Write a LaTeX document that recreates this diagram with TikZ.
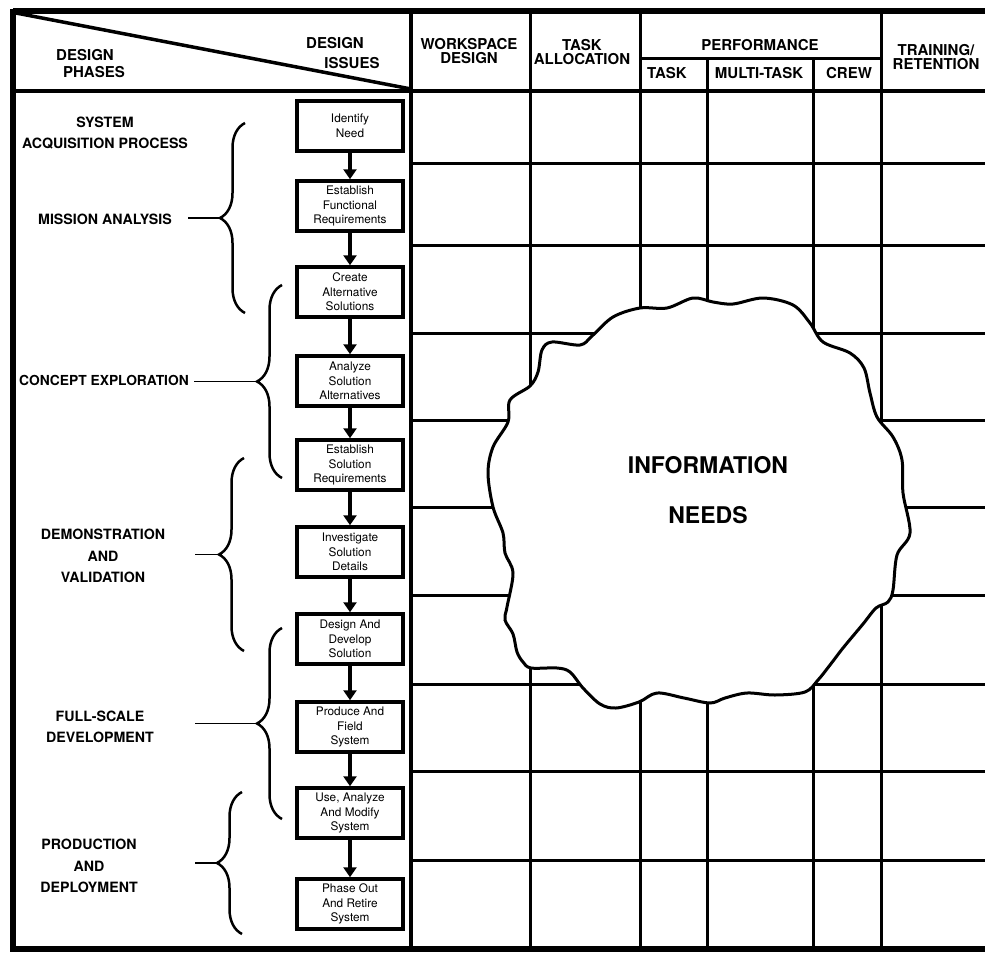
\documentclass[tikz,border=0pt]{standalone}
\usepackage{fontspec}
\setmainfont{TeX Gyre Heros}
\usetikzlibrary{arrows.meta,decorations.pathreplacing}

\begin{document}
\begin{tikzpicture}[x=1pt,y=-1pt,
    hd/.style={font=\fontsize{15}{14}\selectfont\bfseries,align=center,inner sep=0pt},
    ph/.style={font=\fontsize{14.2}{21.5}\selectfont\bfseries,align=center,inner sep=0pt},
    stage/.style={draw,line width=3.5pt,minimum width=106pt,minimum height=50pt,inner sep=0pt,align=center,font=\fontsize{11.8}{14.5}\selectfont},
    arr/.style={line width=4pt,-{Triangle[width=13pt,length=10pt]}},
    brc/.style={decorate,decoration={brace,amplitude=25pt},line width=2.5pt},
    tie/.style={line width=1.8pt},
    gl/.style={line width=3pt},
    fr/.style={line width=5.5pt}]
  \useasboundingbox (0,0) rectangle (985,953);
  \draw[fr] (13,11) -- (986,11);
  \draw[fr] (13,8.5) -- (13,951);
  \draw[fr] (10,949) -- (986,949);
  \draw[line width=4pt] (13,91) -- (986,91);
  \draw[line width=4.5pt] (411,11) -- (411,949);
  \draw[line width=3.5pt] (16,13) -- (411,89);
  \foreach \x in {530,640,881} \draw[gl] (\x,11) -- (\x,949);
  \foreach \x in {707,813} \draw[gl] (\x,58) -- (\x,949);
  \draw[gl] (640,58) -- (881,58);
  \foreach \y in {163,245,333,420,507,595,684,771,860} \draw[gl] (411,\y) -- (986,\y);

  \node[hd] (dp1) at (85,55) {DESIGN};
  \node[hd] (dp2) at (94,72) {PHASES};
  \node[hd] (di1) at (335,43) {DESIGN};
  \node[hd] (di2) at (352,63) {ISSUES};
  \node[hd] (ws) at (469,51) {WORKSPACE\\DESIGN};
  \node[hd] (ta) at (582,52) {TASK\\ALLOCATION};
  \node[hd] (pf) at (760,45) {PERFORMANCE};
  \node[hd] (pt) at (667,73) {TASK};
  \node[hd] (pm) at (759,73) {MULTI-TASK};
  \node[hd] (pc) at (849,73) {CREW};
  \node[hd] (tr) at (936,57) {TRAINING/\\RETENTION};

  \node[ph] (sys) at (105,133) {SYSTEM\\ACQUISITION PROCESS};
  \node[ph] (ma) at (105,219) {MISSION ANALYSIS};
  \node[ph,font=\fontsize{13.8}{21.5}\selectfont\bfseries] (ce) at (104,380) {CONCEPT EXPLORATION};
  \node[ph] (dv) at (103,556) {DEMONSTRATION\\AND\\VALIDATION};
  \node[ph] (fs) at (100,727) {FULL-SCALE\\DEVELOPMENT};
  \node[ph] (pd) at (89,866) {PRODUCTION\\AND\\DEPLOYMENT};

  \node[stage] (s1) at (350,126) {Identify\\Need};
  \node[stage] (s2) at (350,206) {Establish\\Functional\\Requirements};
  \node[stage] (s3) at (350,292) {Create\\Alternative\\Solutions};
  \node[stage] (s4) at (350,381) {Analyze\\Solution\\Alternatives};
  \node[stage] (s5) at (350,465) {Establish\\Solution\\Requirements};
  \node[stage] (s6) at (350,552) {Investigate\\Solution\\Details};
  \node[stage] (s7) at (350,639) {Design And\\Develop\\Solution};
  \node[stage] (s8) at (350,727) {Produce And\\Field\\System};
  \node[stage] (s9) at (350,813) {Use, Analyze\\And Modify\\System};
  \node[stage] (s10) at (350,904) {Phase Out\\And Retire\\System};
  \draw[arr] (s1) -- (s2);
  \draw[arr] (s2) -- (s3);
  \draw[arr] (s3) -- (s4);
  \draw[arr] (s4) -- (s5);
  \draw[arr] (s5) -- (s6);
  \draw[arr] (s6) -- (s7);
  \draw[arr] (s7) -- (s8);
  \draw[arr] (s8) -- (s9);
  \draw[arr] (s9) -- (s10);

  \draw[brc] (245,313) -- (245,123);
  \draw[brc] (282,478) -- (282,285);
  \draw[brc] (244,651) -- (244,458);
  \draw[brc] (282,819) -- (282,628);
  \draw[brc] (242,934) -- (242,792);
  \coordinate (b1) at (220,218);
  \coordinate (b2) at (257,381.5);
  \coordinate (b3) at (219,554.5);
  \coordinate (b4) at (257,723.5);
  \coordinate (b5) at (217,863);
  \coordinate (l1) at (188,218);
  \coordinate (l2) at (194,381.5);
  \coordinate (l3) at (195,554.5);
  \coordinate (l4) at (195,723.5);
  \coordinate (l5) at (195,863);
  \draw[tie] (l1) -- (b1);
  \draw[tie] (l2) -- (b2);
  \draw[tie] (l3) -- (b3);
  \draw[tie] (l4) -- (b4);
  \draw[tie] (l5) -- (b5);

  \draw[line width=3pt,fill=white] plot[smooth cycle,tension=0.55] coordinates {
    (552,342) (580,345) (592,336) (613,317) (640,308) (667,308) (693,298) (713,302)
    (733,304) (763,298) (793,305) (810,323) (823,342) (850,353) (864,368) (870,393)
    (877,417) (893,437) (902,460) (903,493) (910,533) (897,555) (893,590) (888,602)
    (876,608) (863,624) (843,648) (830,665) (818,680) (805,692) (775,695) (747,693)
    (725,698) (710,703) (684,698) (657,693) (639,702) (616,708) (600,704) (583,688)
    (570,672) (557,668) (531,668) (523,662) (517,652) (513,634) (505,620) (507,607)
    (513,573) (505,553) (503,533) (493,507) (488,473) (493,447) (508,422) (510,400)
    (530,386) (538,372) (542,350)};
  \node[font=\fontsize{23}{25}\selectfont\bfseries,inner sep=0pt] (inf) at (708,465) {INFORMATION};
  \node[font=\fontsize{23}{25}\selectfont\bfseries,inner sep=0pt] (nds) at (708,515) {NEEDS};
\end{tikzpicture}
\end{document}
